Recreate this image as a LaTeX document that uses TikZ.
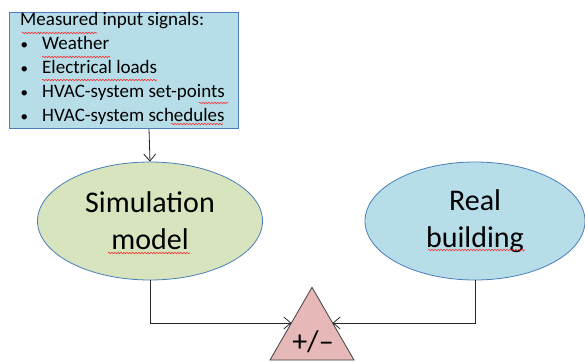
\documentclass[tikz,border=0pt]{standalone}
\usepackage{fontspec}
\setmainfont{Carlito}
\usetikzlibrary{shapes.geometric,arrows.meta,decorations.pathmorphing}
\definecolor{boxblue}{HTML}{B7DEE8}
\definecolor{simgreen}{HTML}{D7E4BD}
\definecolor{tripink}{HTML}{E6B9B8}
\definecolor{edgeblue}{HTML}{4A7EBB}
\newcommand{\mybul}{\hbox to 22pt{\hspace{0.5pt}{\fontsize{15}{15}\selectfont •}\hfil}}
\tikzset{
  inbox/.style={draw=edgeblue, fill=boxblue, line width=0.8pt, anchor=north west, inner sep=0pt, minimum width=229pt, minimum height=116pt},
  oval/.style={ellipse, draw=edgeblue, line width=0.8pt, inner sep=0pt, minimum width=225pt, minimum height=118pt, font=\fontsize{30}{37}\selectfont, align=center},
  tri/.style={regular polygon, regular polygon sides=3, draw=black!75, fill=tripink, line width=0.8pt, minimum size=97pt, inner sep=0pt},
  conn/.style={draw=black!85, line width=0.8pt, -{Straight Barb[length=7pt,width=12pt]}},
  spell/.style={draw=red!80, line width=0.6pt, decorate, decoration={snake, amplitude=0.8pt, segment length=3pt}}
}
\begin{document}
\begin{tikzpicture}[x=1pt,y=-1pt]
\useasboundingbox (0,0) rectangle (585,361);
\node[inbox] (box) at (9,12) {};
\node[anchor=north west, inner sep=0pt, align=left, font=\fontsize{19}{24}\selectfont] (boxtext) at (20,12)
 {Measured input signals:\\
 \mybul Weather\\
 \mybul Electrical loads\\
 \mybul HVAC-system set-points\\
 \mybul HVAC-system schedules};
\node[oval, fill=simgreen] (sim) at (150,221) {Simulation\\model};
\node[oval, fill=boxblue, minimum width=220pt] (real) at (475,221) {Real\\building};
\node[tri] (pm) at (312,335.8) {};
\node[inner sep=0pt, font=\fontsize{30}{34}\selectfont] (pmtext) at (313,342) {+/–};
\coordinate (tl) at (291.4,323);
\coordinate (tr) at (332.6,323);
\draw[conn] (box.south -| 149,0) -- (sim.north);
\draw[conn] (sim.south) |- (tl);
\draw[conn] (real.south) |- (tr);
% spell-check underlines
\draw[spell] (22,33) -- (97,33);
\draw[spell] (42,57) -- (110,57);
\draw[spell] (42,80) -- (157,80);
\draw[spell] (199,103) -- (228,103);
\draw[spell] (171,124) -- (223,124);
\draw[spell] (108,253) -- (190,253);
\draw[spell] (428,250) -- (525,250);
\end{tikzpicture}
\end{document}
